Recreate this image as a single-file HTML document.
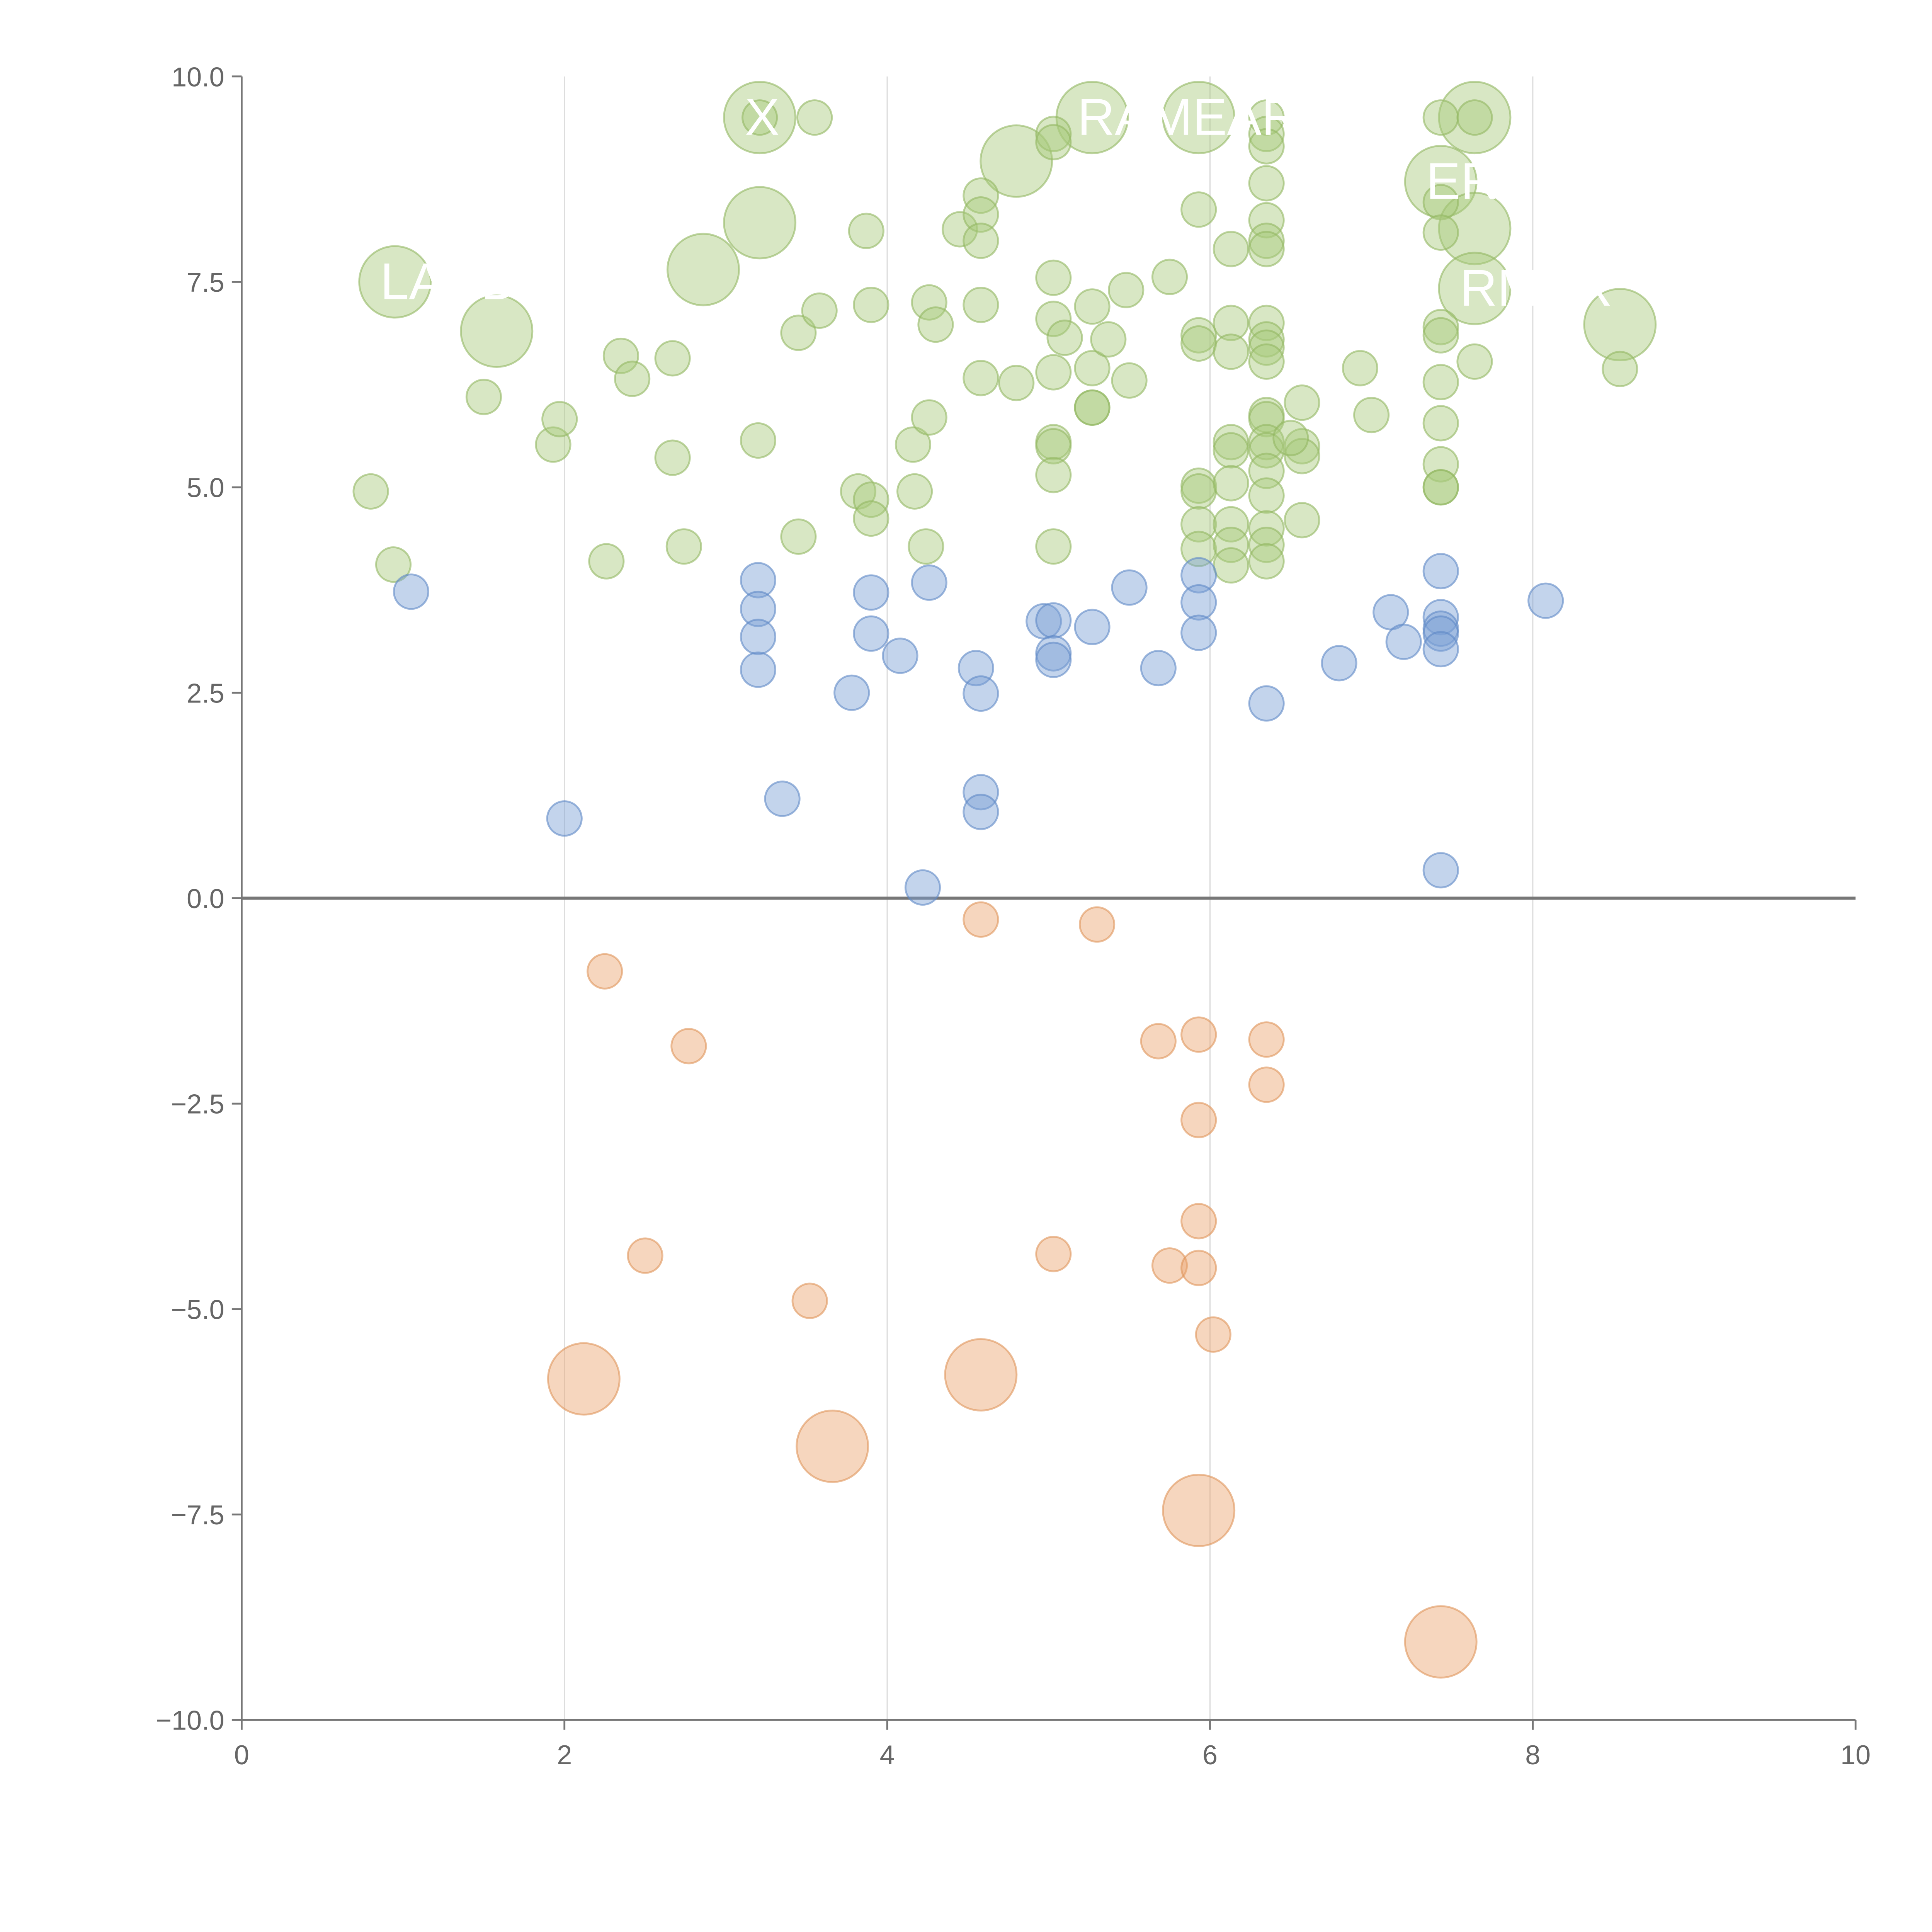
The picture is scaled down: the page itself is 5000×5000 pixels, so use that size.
<!DOCTYPE html>
<html><head><meta charset="utf-8"><style>
html,body{margin:0;padding:0;background:#fff;}
svg{display:block;font-family:"Liberation Sans",sans-serif;}
</style></head><body>
<svg id="chart" width="5000" height="5000" viewBox="0 0 1567 1567" xmlns="http://www.w3.org/2000/svg">
<g id="grid"></g>
<g id="axes"></g>
<g id="marks"></g>
<g id="labels"></g>
</svg>
<script>
const xTicks=[0,2,4,6,8,10];
const yTicks=[-10,-7.5,-5,-2.5,0,2.5,5,7.5,10];
const greenX=[0.95,1.58,2.86,3.21,3.21,4.8,5.27,5.93,7.64,7.43,7.64,7.64,8.54,0.8,0.94,1.5,1.93,1.97,2.26,2.35,2.42,2.67,2.67,2.74,3.2,3.21,3.45,3.45,3.55,3.58,3.82,3.87,3.9,3.9,3.9,4.16,4.17,4.24,4.26,4.26,4.3,4.45,4.58,4.58,4.58,4.58,4.58,4.8,5.03,5.03,5.03,5.03,5.03,5.03,5.03,5.03,5.03,5.1,5.27,5.27,5.27,5.27,5.37,5.48,5.5,5.75,5.93,5.93,5.93,5.93,5.93,5.93,5.93,6.13,6.13,6.13,6.13,6.13,6.13,6.13,6.13,6.13,6.35,6.35,6.35,6.35,6.35,6.35,6.35,6.35,6.35,6.35,6.35,6.35,6.35,6.35,6.35,6.35,6.35,6.35,6.35,6.35,6.57,6.57,6.57,6.57,6.5,6.93,7.0,7.43,7.43,7.43,7.43,7.43,7.43,7.43,7.43,7.43,7.43,7.64,7.64,8.54];
const greenY=[7.5,6.9,7.65,9.5,8.22,8.97,9.5,9.5,9.5,8.72,8.15,7.42,6.98,4.95,4.06,6.1,5.52,5.83,4.1,6.6,6.32,5.36,6.57,4.28,5.57,9.5,6.88,4.4,9.5,7.15,4.95,8.12,7.22,4.85,4.62,5.52,4.95,4.28,7.25,5.85,6.98,8.14,8.55,8.32,8.0,7.22,6.33,6.27,9.3,7.55,7.05,6.4,5.55,5.5,5.15,4.28,9.2,6.82,7.2,6.45,5.97,5.97,6.8,7.4,6.3,7.56,8.38,6.85,6.75,5.02,4.95,4.55,4.25,7.9,7.0,6.65,5.55,5.45,5.05,4.55,4.3,4.05,9.5,9.3,9.15,8.7,8.25,8.0,7.9,7.0,6.8,6.7,6.53,5.88,5.83,5.55,5.45,5.2,4.9,4.5,4.3,4.1,6.03,5.5,5.38,4.6,5.6,6.45,5.88,9.5,8.47,8.1,6.95,6.85,6.28,5.78,5.28,5.0,5.0,9.5,6.53,6.44];
const greenBig=13;
const blueX=[1.05,2.0,3.2,3.2,3.2,3.2,3.35,3.78,3.9,3.9,4.08,4.22,4.26,4.55,4.58,4.58,4.58,4.97,5.03,5.03,5.03,5.27,5.5,5.68,5.93,5.93,5.93,6.35,6.8,7.12,7.2,7.43,7.43,7.43,7.43,7.43,7.43,8.08];
const blueY=[3.73,0.97,3.87,3.52,3.18,2.78,1.21,2.5,3.72,3.22,2.95,0.13,3.84,2.8,2.49,1.29,1.05,3.37,3.38,2.98,2.9,3.3,3.78,2.8,3.93,3.6,3.23,2.37,2.86,3.48,3.12,3.98,3.42,3.28,3.22,3.03,0.34,3.62];
const orangeX=[2.12,3.66,4.58,5.93,7.43,2.25,2.77,2.5,3.52,4.58,5.3,5.03,5.68,5.75,5.93,5.93,5.93,5.93,6.02,6.35,6.35];
const orangeY=[-5.85,-6.67,-5.8,-7.45,-9.05,-0.89,-1.8,-4.35,-4.9,-0.26,-0.32,-4.33,-1.74,-4.47,-1.66,-2.7,-3.93,-4.5,-5.31,-1.72,-2.27];
const orangeBig=5;
const labelText=["RAMEAR","RMER","X","LANDI","ER"];
const labelX=[5.27,7.64,3.21,0.95,7.43];
const labelY=[9.5,7.42,9.5,7.5,8.72];

const NS="http://www.w3.org/2000/svg";
const X0=196,X1=1505,Y0=1395,Y1=62;
const sx=v=>X0+(v-0)/10*(X1-X0);
const sy=v=>Y0-(v+10)/20*(Y0-Y1);
function mk(tag,attrs,parent){const e=document.createElementNS(NS,tag);for(const k in attrs)e.setAttribute(k,attrs[k]);parent.appendChild(e);return e;}
const grid=document.getElementById('grid'),axes=document.getElementById('axes'),marks=document.getElementById('marks'),labels=document.getElementById('labels');
xTicks.forEach(t=>{if(t>0&&t<10){const l=mk('line',{x1:sx(t),x2:sx(t),y1:Y1,y2:Y0,stroke:'#ddd','stroke-width':1},grid);

}
const tk=mk('line',{x1:sx(t),x2:sx(t),y1:Y0,y2:Y0+8,stroke:'#777','stroke-width':1.5},axes);


const tx=mk('text',{x:sx(t),y:Y0+36,'text-anchor':'middle','font-size':22,fill:'#666'},axes);tx.textContent=String(t);

});
yTicks.forEach(t=>{const tk=mk('line',{x1:X0-8,x2:X0,y1:sy(t),y2:sy(t),stroke:'#777','stroke-width':1.5},axes);


const tx=mk('text',{x:X0-14,y:sy(t)+8,'text-anchor':'end','font-size':22,fill:'#666'},axes);tx.textContent=(t<0?'\u2212':'')+Math.abs(t).toFixed(1);

});
const ls=mk('line',{x1:X0,x2:X0,y1:Y1,y2:Y0,stroke:'#777','stroke-width':1.5},axes);


const bs=mk('line',{x1:X0,x2:X1,y1:Y0,y2:Y0,stroke:'#777','stroke-width':1.5},axes);


const zl=mk('line',{x1:X0,x2:X1,y1:sy(0),y2:sy(0),stroke:'#777','stroke-width':2.5},axes);


function series(xs,ys,nBig,fill,stroke,name){xs.forEach((x,i)=>{const c=mk('circle',{cx:sx(x),cy:sy(ys[i]),r:i<nBig?29:14,fill:fill,'fill-opacity':0.45,stroke:stroke,'stroke-opacity':0.6,'stroke-width':1.5},marks);

});}
series(greenX,greenY,greenBig,'#a9c97c','#93b863','green-bubble');
series(blueX,blueY,0,'#7a9fd4','#5f88c6','blue-bubble');
series(orangeX,orangeY,orangeBig,'#eaa56e','#e0955a','orange-bubble');
labelText.forEach((s,i)=>{const t=mk('text',{x:sx(labelX[i])-12,y:sy(labelY[i])+14,'font-size':42,fill:'#fff'},labels);t.textContent=s;

});
</script>
</body></html>
